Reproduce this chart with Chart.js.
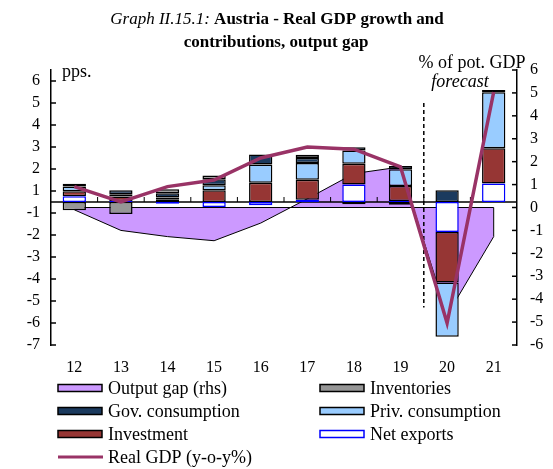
<!DOCTYPE html>
<html>
<head>
<meta charset="utf-8">
<script src="https://cdn.jsdelivr.net/npm/chart.js@4.4.1/dist/chart.umd.min.js"></script>
<style>
  html, body { margin: 0; padding: 0; background: #fff; }
</style>
</head>
<body>
<canvas id="chart" width="553" height="469"></canvas>
<script>
// years on the category axis
const years = ['12', '13', '14', '15', '16', '17', '18', '19', '20', '21'];

// contributions to growth, pps. (left axis)
const netExports = [0.26, 0.05, -0.08, -0.23, -0.15, 0.1, 0.79, 0.05, -1.36, 0.84];
const investment = [0.23, 0.2, 0.12, 0.53, 0.88, 0.91, 0.95, 0.68, -2.3, 1.6];
const privConsumption = [0.22, 0.1, 0.08, 0.23, 0.83, 0.76, 0.6, 0.76, -2.47, 2.55];
const govConsumption = [0.12, 0.18, 0.2, 0.27, 0.45, 0.23, 0.15, 0.15, 0.53, 0.1];
const inventories = [-0.38, -0.55, 0.18, 0.18, 0, 0.15, -0.1, -0.12, 0, 0];
const realGdp = [0.7, 0.0, 0.7, 1.0, 2.0, 2.5, 2.4, 1.6, -5.5, 5.0];

// output gap, % of potential GDP (right axis)
const outputGap = [-0.1, -1.0, -1.27, -1.45, -0.68, 0.38, 1.48, 1.77, -4.7, -1.27];

// left axis ticks sit on half values, labelled rounded (as in the original)
const leftTickValues = [5.5, 4.5, 3.5, 2.5, 1.5, 0.5, -0.5, -1.5, -2.5, -3.5, -4.5, -5.5, -6.5];
const leftTickLabels = ['6', '5', '4', '3', '2', '1', '-1', '-2', '-3', '-4', '-5', '-6', '-7'];

const FONT = '"Liberation Serif", "Times New Roman", serif';

const legendRows = [
    ['Output gap (rhs)', 'Inventories'],
    ['Gov. consumption', 'Priv. consumption'],
    ['Investment', 'Net exports'],
    ['Real GDP (y-o-y%)']
];

function line(ctx, x0, y0, x1, y1) {
    ctx.beginPath();
    ctx.moveTo(x0, y0);
    ctx.lineTo(x1, y1);
    ctx.stroke();
}

const decorations = {
    id: 'decorations',
    afterDatasetDraw(chart, args) {
        // drawn right after the output gap area, below the bars and the GDP line
        if (args.index !== 0) return;
        const ctx = chart.ctx;
        const area = chart.chartArea;
        const x = chart.scales.x;
        const y = chart.scales.y;
        const y1 = chart.scales.y1;
        const pts = args.meta.data;
        ctx.save();
        ctx.strokeStyle = '#000';
        ctx.lineWidth = 1;
        const base = y1.getPixelForValue(0);
        const last = pts[pts.length - 1];
        line(ctx, pts[0].x, base, last.x, base);
        line(ctx, last.x, base, last.x, last.y);

        // forecast separator
        const xs = (x.getPixelForValue(7) + x.getPixelForValue(8)) / 2;
        ctx.lineWidth = 1.5;
        ctx.setLineDash([4, 3]);
        line(ctx, xs, y.getPixelForValue(4.5), xs, y.getPixelForValue(-4.8));
        ctx.setLineDash([]);

        // zero line with small category ticks
        const y0 = y.getPixelForValue(0);
        line(ctx, area.left, y0, area.right, y0);
        ctx.lineWidth = 1;
        for (let i = 1; i < years.length; i++) {
            const xb = (x.getPixelForValue(i - 1) + x.getPixelForValue(i)) / 2;
            line(ctx, xb, y0, xb, y0 - 5);
        }
        ctx.restore();
    },
    afterDraw(chart) {
        const ctx = chart.ctx;
        const area = chart.chartArea;
        const y = chart.scales.y;
        const y1 = chart.scales.y1;
        ctx.save();

        // inward tick marks on both value axes
        ctx.strokeStyle = '#000';
        ctx.lineWidth = 1.5;
        y.ticks.forEach(t => {
            const py = y.getPixelForValue(t.value);
            line(ctx, area.left, py, area.left + 5, py);
        });
        y1.ticks.forEach(t => {
            const py = y1.getPixelForValue(t.value);
            line(ctx, area.right - 5, py, area.right, py);
        });

        // title, mixed italic and bold
        ctx.fillStyle = '#000';
        ctx.textBaseline = 'middle';
        ctx.textAlign = 'left';
        const part1 = 'Graph II.15.1: ';
        const part2 = 'Austria - Real GDP growth and';
        ctx.font = 'italic 17px ' + FONT;
        const w1 = ctx.measureText(part1).width;
        ctx.font = 'bold 17px ' + FONT;
        const w2 = ctx.measureText(part2).width;
        const tx = 277 - (w1 + w2) / 2;
        ctx.font = 'italic 17px ' + FONT;
        ctx.fillText(part1, tx, 20);
        ctx.font = 'bold 17px ' + FONT;
        ctx.fillText(part2, tx + w1, 20);
        ctx.textAlign = 'center';
        ctx.fillText('contributions, output gap', 276, 43);

        // axis units and forecast note
        ctx.font = '18px ' + FONT;
        ctx.textAlign = 'left';
        ctx.fillText('pps.', 62, 72);
        ctx.textAlign = 'center';
        ctx.fillText('% of pot. GDP', 472, 63);
        ctx.font = 'italic 18px ' + FONT;
        ctx.fillText('forecast', 460, 82);

        // legend, two columns
        const byLabel = {};
        chart.data.datasets.forEach(ds => { byLabel[ds.label] = ds; });
        ctx.font = '18px ' + FONT;
        ctx.textAlign = 'left';
        legendRows.forEach((row, r) => {
            const ry = 388 + r * 23;
            row.forEach((label, c) => {
                const ds = byLabel[label];
                const sx = c === 0 ? 58 : 320;
                if (ds.type === 'line' && !ds.fill) {
                    ctx.strokeStyle = ds.borderColor;
                    ctx.lineWidth = 3;
                    line(ctx, sx, ry, sx + 45, ry);
                } else {
                    ctx.fillStyle = ds.backgroundColor;
                    ctx.fillRect(sx, ry - 3.5, 44, 7);
                    ctx.strokeStyle = ds.type === 'line' ? '#000' : ds.borderColor;
                    ctx.lineWidth = 1.5;
                    ctx.strokeRect(sx, ry - 3.5, 44, 7);
                }
                ctx.fillStyle = '#000';
                ctx.fillText(label, sx + 50, ry + 1);
            });
        });
        ctx.restore();
    }
};

function barSet(label, data, fill, border) {
    return {
        type: 'bar',
        label: label,
        data: data,
        yAxisID: 'y',
        backgroundColor: fill,
        borderColor: border,
        borderWidth: 1.5,
        borderSkipped: false,
        barPercentage: 0.5,
        categoryPercentage: 1,
        order: 1
    };
}

const tickFont = { family: FONT, size: 16 };

new Chart(document.getElementById('chart').getContext('2d'), {
    data: {
        labels: years,
        datasets: [
            {
                type: 'line',
                label: 'Output gap (rhs)',
                data: outputGap,
                yAxisID: 'y1',
                backgroundColor: '#CC99FF',
                borderColor: '#000',
                borderWidth: 1,
                fill: 'origin',
                pointRadius: 0,
                tension: 0,
                order: 2
            },
            barSet('Net exports', netExports, '#FFFFFF', '#0000FF'),
            barSet('Investment', investment, '#963634', '#000'),
            barSet('Priv. consumption', privConsumption, '#99CCFF', '#000'),
            barSet('Gov. consumption', govConsumption, '#1B3A5E', '#000'),
            barSet('Inventories', inventories, '#969696', '#000'),
            {
                type: 'line',
                label: 'Real GDP (y-o-y%)',
                data: realGdp,
                yAxisID: 'y',
                borderColor: '#993366',
                borderWidth: 3.5,
                fill: false,
                pointRadius: 0,
                tension: 0,
                order: 0
            }
        ]
    },
    options: {
        responsive: false,
        animation: false,
        devicePixelRatio: 1,
        layout: { padding: { top: 70, bottom: 84, left: 0, right: 0 } },
        plugins: {
            legend: { display: false },
            tooltip: { enabled: false },
            title: { display: false }
        },
        scales: {
            x: {
                stacked: true,
                grid: { display: false, drawTicks: false },
                border: { display: false },
                ticks: { color: '#000', font: tickFont, padding: 13, maxRotation: 0, autoSkip: false },
                afterFit(s) { s.height = 40; }
            },
            y: {
                position: 'left',
                stacked: true,
                min: -6.5,
                max: 6,
                grid: { display: false, drawTicks: false },
                border: { display: true, color: '#000', width: 1.5 },
                afterBuildTicks(s) { s.ticks = leftTickValues.map(v => ({ value: v })); },
                ticks: {
                    color: '#000',
                    font: tickFont,
                    padding: 11,
                    autoSkip: false,
                    callback: (v, i) => leftTickLabels[i]
                },
                afterFit(s) { s.width = 51; }
            },
            y1: {
                position: 'right',
                min: -6,
                max: 6,
                grid: { display: false, drawTicks: false },
                border: { display: true, color: '#000', width: 1.5 },
                ticks: { color: '#000', font: tickFont, padding: 13, stepSize: 1, autoSkip: false },
                afterFit(s) { s.width = 36; }
            }
        }
    },
    plugins: [decorations]
});
</script>
</body>
</html>
